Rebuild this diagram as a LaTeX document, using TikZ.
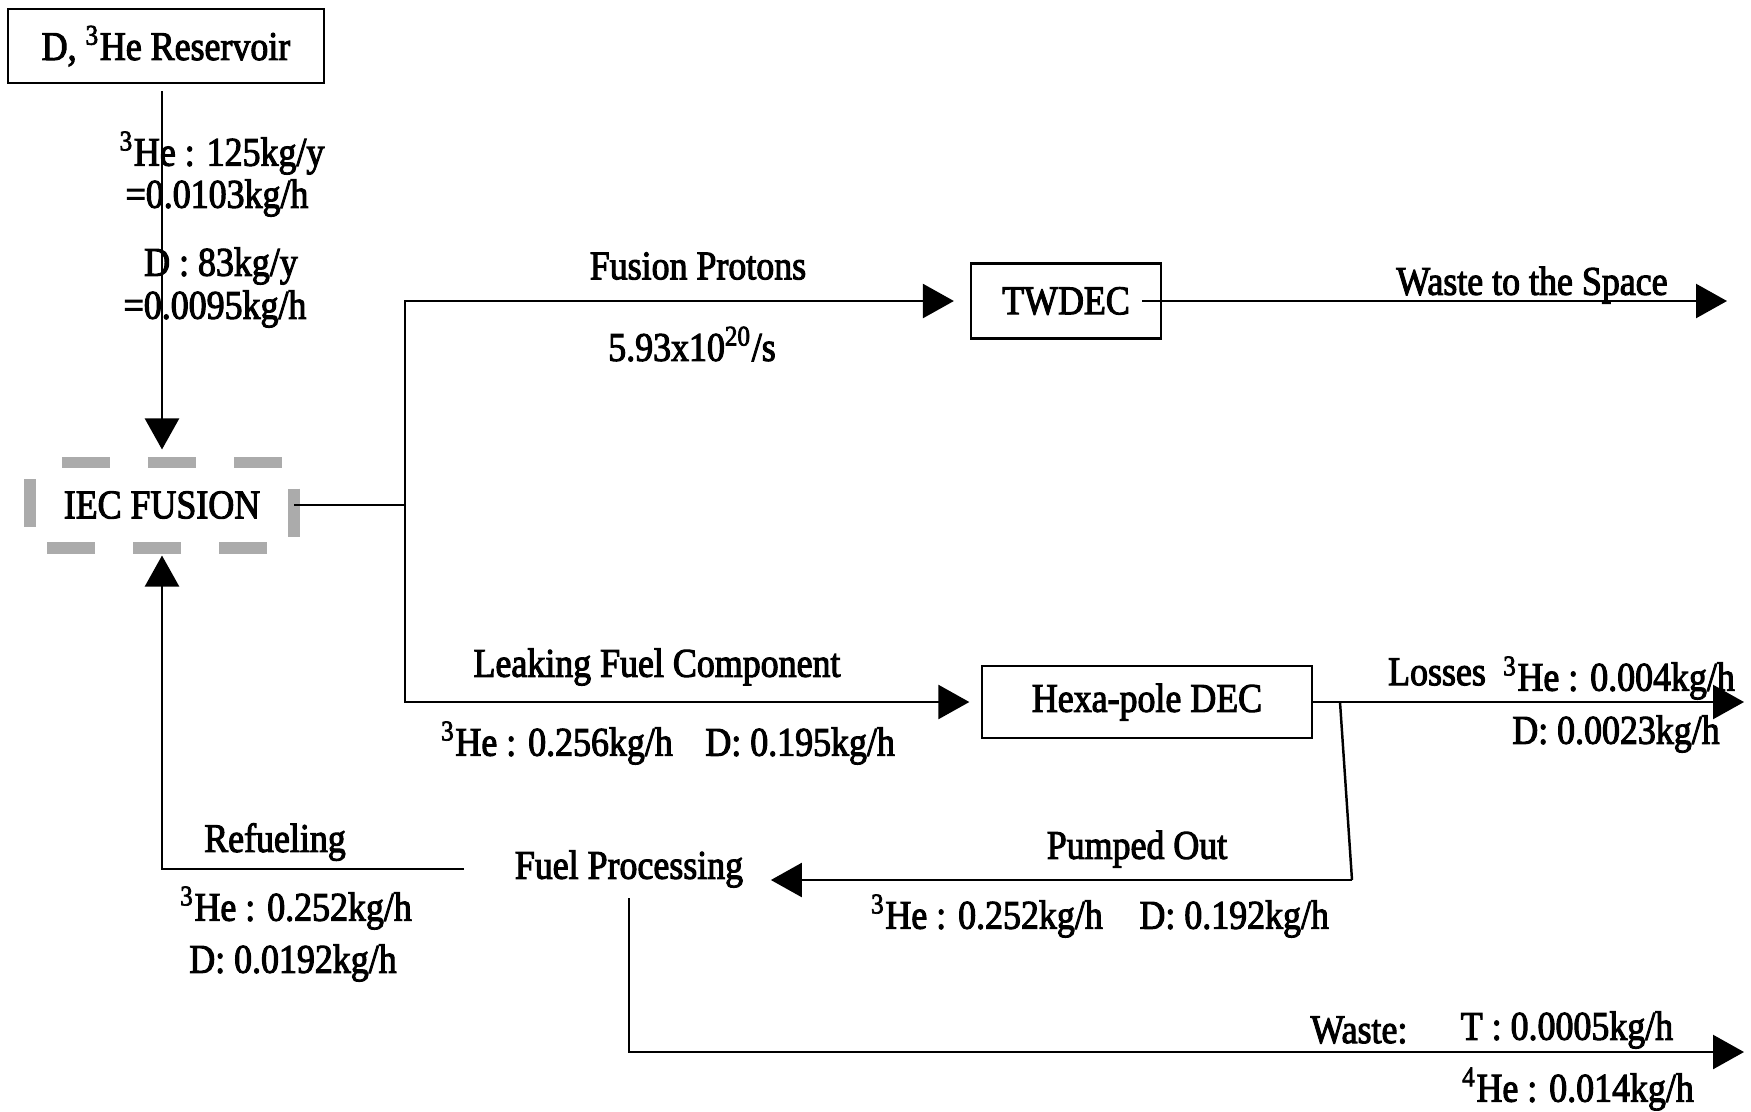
\documentclass[tikz,border=0pt]{standalone}
\usepackage{fontspec}
\setmainfont{Liberation Serif}[FakeStretch=0.88, FakeBold=2.5]
\usetikzlibrary{arrows.meta}
\begin{document}
\begin{tikzpicture}[x=0.01cm, y=-0.01cm,
    every node/.style={font=\fontsize{11.6}{14}\selectfont},
    blk/.style={draw, line width=0.6pt, inner sep=0pt},
    lbl/.style={inner sep=0pt},
    flow/.style={line width=0.7pt, -{Triangle[length=0.31cm, width=0.34cm]}},
    wire/.style={line width=0.7pt}]
  \useasboundingbox (0,0) rectangle (1751,1111);
  % blocks
  \node[blk, minimum width=3.15cm, minimum height=0.74cm] (reservoir) at (166,46) {D, \textsuperscript{3}He Reservoir};
  \node[inner sep=0pt, outer sep=0pt, minimum width=2.64cm, minimum height=0.85cm] (iec) at (162,505) {IEC FUSION};
  \draw[black!33, line width=3.4pt, dash pattern=on 0.48cm off 0.38cm, dash phase=0.54cm]
    (iec.north west) -- (iec.north east) -- (iec.south east) -- (iec.south west) -- cycle;
  \node[blk, minimum width=1.9cm, minimum height=0.75cm] (twdec) at (1066,301) {TWDEC};
  \node[blk, minimum width=3.29cm, minimum height=0.72cm] (hexa) at (1147,702) {Hexa-pole DEC};
  \node[inner xsep=0.27cm, inner ysep=0.1cm] (fuelproc) at (629,869) {Fuel Processing};
  % branch points and free ends
  \coordinate (split) at (405,505);
  \coordinate (space) at (1727,301);
  \coordinate (loss) at (1744,702);
  \coordinate (tap) at (1340,702);
  \coordinate (tapend) at (1352,880);
  \coordinate (waste) at (1744,1052);
  % connectors
  \draw[flow, shorten <=0.07cm, shorten >=0.13cm] (iec.north |- reservoir.south) -- (iec.north);
  \draw[wire] (iec.east) -- (split);
  \draw[flow, shorten >=0.16cm] (split) |- (twdec.west);
  \draw[flow, shorten >=0.12cm] (split) |- (hexa.west);
  \draw[flow] ([xshift=-0.2cm]twdec.east) -- (space);
  \draw[flow] (hexa.east) -- (loss);
  \draw[wire] (tap) -- (tapend);
  \draw[flow] (tapend) -- (tapend -| fuelproc.east);
  \draw[flow, shorten >=0.08cm] ([xshift=-0.23cm]fuelproc.west) -| (iec.south);
  \draw[flow] (fuelproc.south) |- (waste);
  % labels
  \node[lbl] (he3in) at (222,153) {\textsuperscript{3}He : 125kg/y};
  \node[lbl] (he3inh) at (217,198) {=0.0103kg/h};
  \node[lbl] (din) at (221,266) {D : 83kg/y};
  \node[lbl] (dinh) at (215,309) {=0.0095kg/h};
  \node[lbl] (protons) at (698,266) {Fusion Protons};
  \node[lbl] (rate) at (692,344) {5.93x10\textsuperscript{20}/s};
  \node[lbl] (spacelbl) at (1532,285) {Waste to the Space};
  \node[lbl] (leak) at (657,667) {Leaking Fuel Component};
  \node[lbl] (leakrate) at (668,743) {\textsuperscript{3}He : 0.256kg/h\hspace{0.8em}D: 0.195kg/h};
  \node[lbl] (losses) at (1437,672) {Losses};
  \node[lbl] (losshe) at (1619,678) {\textsuperscript{3}He : 0.004kg/h};
  \node[lbl] (lossd) at (1616,734) {D: 0.0023kg/h};
  \node[lbl] (pumped) at (1137,849) {Pumped Out};
  \node[lbl] (pumprate) at (1100,916) {\textsuperscript{3}He : 0.252kg/h\hspace{0.9em}D: 0.192kg/h};
  \node[lbl] (refuel) at (275,842) {Refueling};
  \node[lbl] (refuelhe) at (296,908) {\textsuperscript{3}He : 0.252kg/h};
  \node[lbl] (refueld) at (293,963) {D: 0.0192kg/h};
  \node[lbl] (wastelbl) at (1359,1030) {Waste:};
  \node[lbl] (wastet) at (1567,1030) {T : 0.0005kg/h};
  \node[lbl] (wastehe) at (1578,1089) {\textsuperscript{4}He : 0.014kg/h};
\end{tikzpicture}
\end{document}
